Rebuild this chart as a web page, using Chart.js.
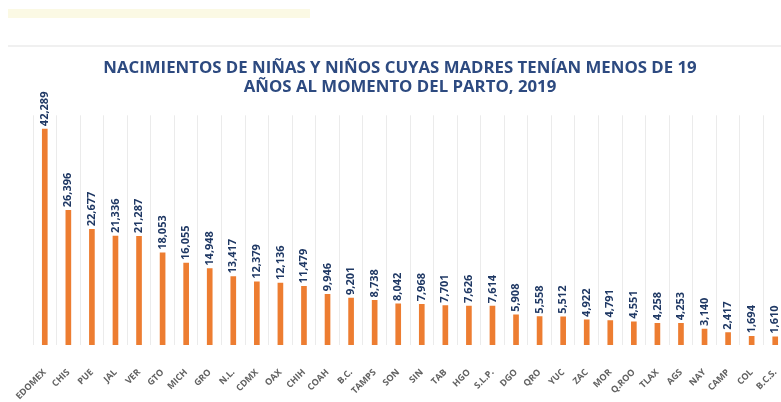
<!DOCTYPE html>
<html>
<head>
<meta charset="utf-8">
<script src="https://cdn.jsdelivr.net/npm/chart.js@4"></script>
<style>
  body { margin: 0; background: #fff; overflow: hidden; }
  #wrap { position: absolute; left: 0; top: 0; width: 800px; height: 402px; }
  .strip { position: absolute; left: 8px; top: 9px; width: 302px; height: 9px; background: #fbf9e4; }
  .rule { position: absolute; left: 8px; top: 45px; width: 773px; height: 2px; background: #f0f0f0; }
</style>
</head>
<body>
<div class="strip"></div>
<div class="rule"></div>
<div id="wrap"><canvas id="chart"></canvas></div>
<script>
// entidades federativas
const estados = ['EDOMEX', 'CHIS', 'PUE', 'JAL', 'VER', 'GTO', 'MICH', 'GRO', 'N.L.', 'CDMX',
  'OAX', 'CHIH', 'COAH', 'B.C.', 'TAMPS', 'SON', 'SIN', 'TAB', 'HGO', 'S.L.P.',
  'DGO', 'QRO', 'YUC', 'ZAC', 'MOR', 'Q.ROO', 'TLAX', 'AGS', 'NAY', 'CAMP', 'COL', 'B.C.S.'];

// nacimientos de madres menores de 19 años
const nacimientos = [42289, 26396, 22677, 21336, 21287, 18053, 16055, 14948, 13417, 12379,
  12136, 11479, 9946, 9201, 8738, 8042, 7968, 7701, 7626, 7614,
  5908, 5558, 5512, 4922, 4791, 4551, 4258, 4253, 3140, 2417, 1694, 1610];

const titulo = ['NACIMIENTOS DE NIÑAS Y NIÑOS CUYAS MADRES TENÍAN MENOS DE 19',
  'AÑOS AL MOMENTO DEL PARTO, 2019'];

// etiquetas de valor giradas sobre cada barra
const etiquetas = {
  id: 'etiquetas',
  afterDatasetsDraw(chart) {
    const ctx = chart.ctx;
    const meta = chart.getDatasetMeta(0);
    ctx.save();
    ctx.font = 'bold 11px "Open Sans", sans-serif';
    ctx.fillStyle = '#1f3864';
    ctx.textAlign = 'left';
    ctx.textBaseline = 'middle';
    meta.data.forEach((bar, i) => {
      ctx.save();
      ctx.translate(bar.x, bar.y - 3);
      ctx.rotate(-Math.PI / 2);
      ctx.fillText(nacimientos[i].toLocaleString('en-US'), 0, 0);
      ctx.restore();
    });
    ctx.restore();
  }
};

new Chart(document.getElementById('chart'), {
  type: 'bar',
  data: {
    labels: estados,
    datasets: [{
      data: nacimientos,
      backgroundColor: '#ed7d31',
      barThickness: 5
    }]
  },
  options: {
    responsive: true,
    maintainAspectRatio: false,
    animation: false,
    layout: { padding: { left: 13, right: 13, top: 0, bottom: 0 } },
    plugins: {
      legend: { display: false },
      tooltip: { enabled: false },
      title: {
        display: true,
        text: titulo,
        color: '#2d4a80',
        font: { family: 'Open Sans', size: 16.8, weight: 'bold', lineHeight: 1.17 },
        padding: { top: 58, bottom: 18 }
      }
    },
    scales: {
      x: {
        grid: { offset: true, color: '#ebebeb', drawTicks: false },
        border: { display: false },
        ticks: {
          autoSkip: false,
          maxRotation: 45,
          minRotation: 45,
          padding: 22,
          color: '#626262',
          font: { family: 'Open Sans', size: 9, weight: 'bold' }
        },
        afterFit(scale) {
          scale.height = 57;
          scale.paddingLeft = 0;
          scale.paddingRight = 0;
        }
      },
      y: {
        display: true,
        min: 0,
        max: 45000,
        grid: { display: false },
        border: { display: false },
        ticks: { display: false },
        afterFit(scale) {
          scale.width = 20;
          scale.paddingTop = 0;
          scale.paddingBottom = 0;
        }
      }
    }
  },
  plugins: [etiquetas]
});
</script>
</body>
</html>
